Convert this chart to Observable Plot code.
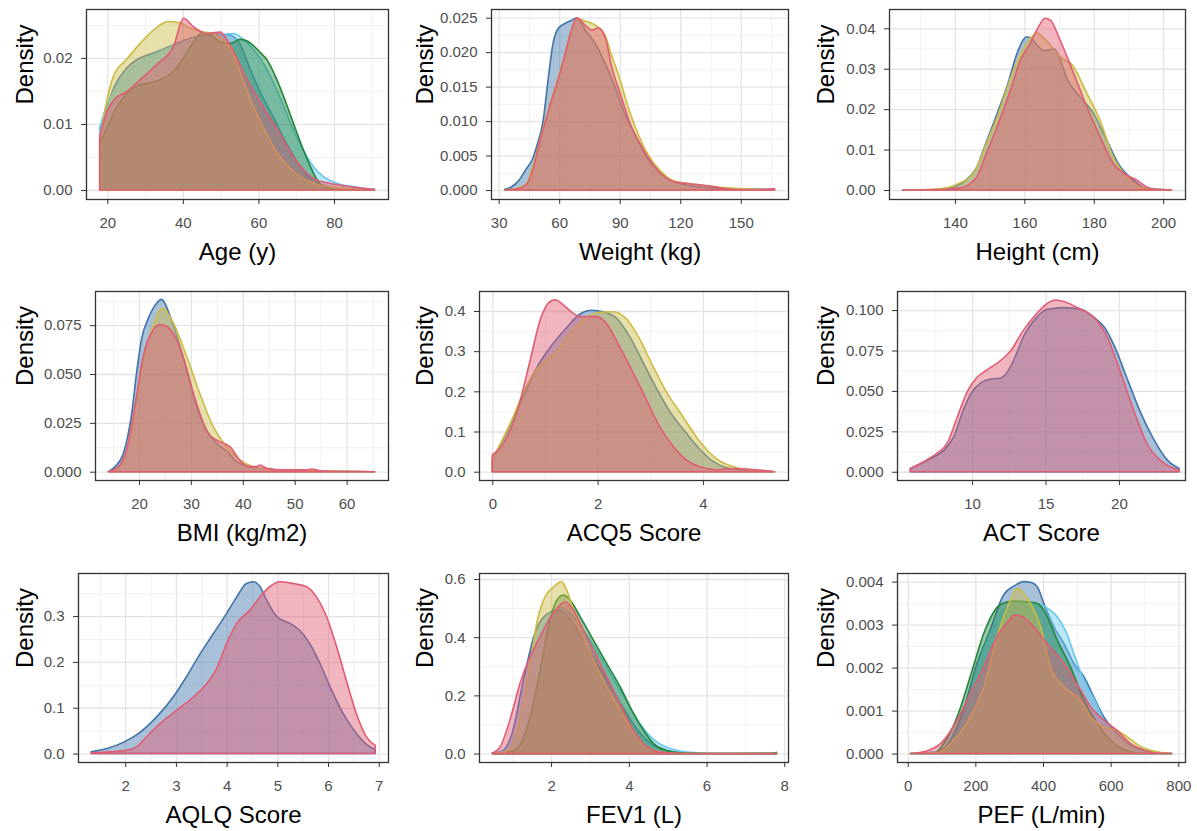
<!DOCTYPE html>
<html><head><meta charset="utf-8">
<script src="https://cdn.jsdelivr.net/npm/d3@7"></script>
<script src="https://cdn.jsdelivr.net/npm/@observablehq/plot@0.6"></script>
<style>
html,body{margin:0;padding:0;background:#fff;}
#chart{position:relative;width:1197px;height:831px;overflow:hidden;background:#fff;}
.cell{position:absolute;width:399px;height:277px;}
</style></head><body><div id="chart"></div>
<script>
// ---------- DATA: density curves [x, density] ----------
const age_blue = [[18,0.0091],[20,0.0128],[22,0.0158],[25,0.0184],[28,0.0198],[32,0.0207],[36,0.0216],[40,0.0226],[44,0.0233],[48,0.0236],[52,0.0235],[55,0.0222],[58,0.018],[61,0.0142],[64,0.011],[67,0.0075],[70,0.0045],[73,0.0022],[76,0.001],[80,0.0004],[85,0.0001],[90.7,0]];
const age_cyan = [[18,0.0095],[20,0.013],[23,0.0162],[26,0.0182],[30,0.0198],[35,0.0212],[40,0.0222],[45,0.0229],[50,0.0235],[53.5,0.0237],[56,0.0228],[58.8,0.0212],[61.5,0.019],[64,0.0162],[66.5,0.013],[68.5,0.0101],[70.5,0.0075],[72.9,0.005],[75,0.0032],[77.3,0.002],[80.9,0.001],[85.3,0.0005],[90.7,0.0001]];
const age_green = [[18,0.007],[20,0.0095],[22,0.012],[25,0.0145],[28,0.0158],[31,0.0162],[34,0.0167],[37,0.0177],[40,0.0198],[43,0.0226],[45,0.0238],[47.5,0.0234],[50,0.0224],[52.5,0.0222],[55.2,0.0228],[58,0.0222],[60.5,0.0208],[62.3,0.0197],[64.5,0.0172],[66.7,0.0141],[69,0.0105],[71.2,0.0071],[73.8,0.0035],[76.5,0.0008],[80,0.0002],[90.7,0]];
const age_yellow = [[18,0.0075],[19.5,0.0125],[21.6,0.0172],[25,0.0197],[28.7,0.0222],[32.2,0.0242],[36,0.0255],[39.3,0.0253],[42,0.0245],[44.6,0.024],[48,0.0237],[50,0.023],[53,0.021],[56,0.0165],[59,0.0122],[62,0.0086],[65,0.0056],[68,0.0035],[71,0.002],[75,0.001],[80,0.0004],[90.7,0]];
const age_red = [[18,0.0082],[20,0.012],[22,0.0138],[25,0.0148],[28.7,0.0167],[33.1,0.019],[37.5,0.0217],[40.2,0.026],[42.8,0.0247],[46.4,0.0237],[49.9,0.0239],[51.7,0.0227],[54,0.0203],[57,0.0167],[60,0.0138],[62.3,0.0116],[65,0.0092],[67.6,0.0066],[70,0.0045],[72.9,0.0025],[75.5,0.0015],[78.2,0.0011],[84.4,0.0005],[90.7,0.0001]];

const wt_blue = [[33,0.0001],[36,0.0004],[40.3,0.0015],[43.5,0.003],[46.8,0.0045],[49,0.0065],[52,0.01],[54.5,0.016],[56.9,0.0212],[59,0.0232],[61.8,0.024],[66,0.0246],[68.8,0.025],[72.9,0.0232],[77.8,0.0213],[82.7,0.0184],[87.6,0.015],[92.5,0.0111],[97.4,0.0082],[102.3,0.0053],[108.8,0.0029],[117,0.0012],[128.4,0.0005],[144.7,0.0002],[166.7,0.0001]];
const wt_yellow = [[33,0],[38,0.0002],[43.5,0.0008],[47,0.0035],[50,0.0068],[55,0.012],[61.5,0.0183],[65.6,0.0228],[68.8,0.0249],[72.9,0.0245],[76.2,0.0242],[79.4,0.0236],[82.7,0.0225],[86,0.0195],[89.2,0.0169],[94.1,0.0121],[99,0.0082],[103.9,0.0052],[110.4,0.0027],[117,0.0013],[128.4,0.0008],[140,0.0004],[150,0.0002],[166.7,0]];
const wt_red = [[33,0],[38,0.0001],[43.5,0.0007],[47,0.003],[50,0.0066],[55,0.0118],[61.5,0.0181],[65.6,0.0227],[68.8,0.025],[72.9,0.0239],[76.2,0.0232],[79.4,0.0235],[82.7,0.0222],[86,0.0179],[90.8,0.0135],[95.7,0.0092],[99,0.0073],[103.9,0.0048],[110.4,0.0024],[117,0.0012],[128.4,0.0008],[136.5,0.0005],[144.7,0.0001],[157.7,0],[163,0.0001],[166.7,0.0002]];

const ht_blue = [[124.9,0],[134,0.0001],[137.8,0.0004],[140.5,0.001],[142.6,0.0021],[144.5,0.0035],[146.4,0.0058],[148,0.0095],[149.3,0.0124],[152.2,0.019],[155,0.0256],[157.9,0.0338],[159.8,0.0373],[160.7,0.0379],[162,0.0375],[163.6,0.036],[165.5,0.0345],[167.2,0.0346],[168.4,0.035],[170.3,0.0325],[172.2,0.0277],[176,0.0231],[179.9,0.019],[183.7,0.0124],[187.6,0.0058],[191.4,0.0025],[195.2,0.0004],[202.4,0]];
const ht_yellow = [[124.9,0],[134,0.0002],[138.8,0.0008],[141.5,0.0018],[144.5,0.0033],[146.5,0.006],[148.3,0.0099],[152.2,0.0181],[156.9,0.0297],[160.8,0.0363],[163.6,0.0388],[166.5,0.0368],[170.3,0.033],[174.2,0.0305],[178,0.0239],[181.8,0.0173],[185.6,0.0082],[189.5,0.0033],[193.3,0.0008],[197,0.0001],[202.4,0]];
const ht_red = [[124.9,0],[136,0.0001],[140.7,0.0004],[144.5,0.0016],[146.5,0.0035],[148.3,0.0074],[152.2,0.0157],[156,0.0247],[158.9,0.0322],[161.7,0.0363],[163.6,0.0396],[166,0.0425],[167.5,0.042],[170.3,0.0371],[174.2,0.0289],[178,0.0206],[181.8,0.0132],[185.6,0.0066],[189.5,0.0037],[192.3,0.0025],[194.5,0.0012],[196.2,0.0004],[199,0.0001],[202.4,0]];

const bmi_blue = [[14.1,0],[15.4,0.0026],[17,0.0094],[18.6,0.03],[19.6,0.052],[20.5,0.068],[21.8,0.0785],[23.4,0.0862],[24.3,0.0882],[25,0.0862],[26,0.0796],[27.9,0.0642],[29.5,0.0488],[31.1,0.0334],[33,0.0214],[34.9,0.0146],[36.9,0.0105],[38.8,0.0051],[41.3,0.0026],[44.6,0.0014],[51,0.0005],[57.4,0.0002],[65.4,0]];
const bmi_yellow = [[14.1,0],[15.7,0.0015],[17.6,0.0105],[19.2,0.032],[20.8,0.057],[22.8,0.0755],[24.5,0.0835],[26.6,0.0762],[29.2,0.059],[31.7,0.0402],[34.3,0.0231],[36.9,0.0128],[39.4,0.006],[42,0.0025],[45,0.0012],[50,0.0007],[55,0.0004],[65.4,0]];
const bmi_red = [[14.1,0],[15.7,0.0017],[17.6,0.0111],[19.2,0.0334],[20.8,0.059],[22.8,0.0728],[24,0.0753],[25.3,0.0745],[26.9,0.0693],[28.5,0.059],[30.1,0.0437],[31.7,0.03],[33.3,0.0197],[34.9,0.0163],[36.2,0.0146],[37.5,0.0128],[39.4,0.006],[41,0.0026],[42.6,0.0026],[43.3,0.0034],[44.6,0.0017],[47.8,0.0009],[52.2,0.0009],[53.2,0.0014],[54.8,0.0005],[60,0.0001],[65.4,0]];

const acq_blue = [[0,0.03],[0.3,0.105],[0.6,0.19],[0.84,0.258],[1.1,0.31],[1.4,0.357],[1.66,0.392],[1.89,0.402],[2.11,0.398],[2.36,0.382],[2.61,0.336],[2.87,0.27],[3.12,0.207],[3.37,0.15],[3.69,0.095],[3.94,0.056],[4.2,0.025],[4.45,0.01],[4.89,0.003],[5.36,0]];
const acq_yellow = [[0,0.03],[0.37,0.129],[0.6,0.2],[0.84,0.255],[1.05,0.28],[1.22,0.3],[1.45,0.34],[1.66,0.37],[2.04,0.397],[2.3,0.398],[2.55,0.38],[2.8,0.33],[3.06,0.26],[3.31,0.198],[3.63,0.135],[3.94,0.075],[4.26,0.032],[4.58,0.012],[4.89,0.004],[5.36,0]];
const acq_red = [[0,0.042],[0.21,0.07],[0.46,0.145],[0.72,0.278],[0.91,0.378],[1.09,0.423],[1.2,0.428],[1.35,0.415],[1.54,0.394],[1.66,0.386],[1.98,0.386],[2.17,0.369],[2.42,0.311],[2.68,0.245],[2.93,0.178],[3.18,0.112],[3.44,0.062],[3.69,0.029],[3.94,0.012],[4.26,0.005],[4.58,0.008],[4.89,0.006],[5.36,0]];

const act_blue = [[5.8,0.002],[6.5,0.005],[7.2,0.0082],[8.1,0.0134],[8.75,0.0216],[9.4,0.038],[9.9,0.048],[10.6,0.055],[11.2,0.0572],[11.9,0.0578],[12.5,0.063],[13,0.0725],[13.5,0.0835],[14.4,0.0955],[15.1,0.1005],[16.25,0.1015],[17.4,0.1005],[18.3,0.0955],[19,0.0895],[19.7,0.0775],[20.6,0.0567],[21.5,0.0361],[22.4,0.0196],[23.3,0.0072],[24.1,0.002]];
const act_red = [[5.8,0.002],[6.7,0.0062],[7.6,0.0113],[8.3,0.0175],[9,0.034],[9.7,0.05],[10.3,0.058],[11,0.0629],[11.9,0.0685],[12.6,0.0745],[13.5,0.0876],[14.4,0.0979],[15.3,0.1052],[15.7,0.1062],[16.3,0.1052],[17.4,0.1005],[18.3,0.0955],[19.2,0.0835],[19.9,0.067],[20.6,0.0485],[21.25,0.032],[21.9,0.0175],[22.8,0.0072],[24.1,0.001]];

const aq_blue = [[1.33,0.004],[1.64,0.011],[1.97,0.025],[2.3,0.047],[2.62,0.08],[2.95,0.124],[3.21,0.168],[3.48,0.218],[3.74,0.262],[4,0.306],[4.2,0.342],[4.39,0.371],[4.53,0.375],[4.66,0.364],[4.79,0.335],[4.99,0.299],[5.25,0.284],[5.44,0.269],[5.64,0.24],[5.84,0.197],[6.04,0.146],[6.3,0.087],[6.56,0.044],[6.82,0.015],[6.93,0.009]];
const aq_red = [[1.33,0.0015],[1.7,0.004],[2.03,0.007],[2.23,0.015],[2.43,0.038],[2.69,0.066],[3.02,0.095],[3.35,0.124],[3.61,0.153],[3.8,0.185],[4,0.24],[4.2,0.284],[4.46,0.313],[4.66,0.342],[4.85,0.364],[5.05,0.375],[5.31,0.371],[5.58,0.364],[5.77,0.342],[5.97,0.299],[6.17,0.233],[6.36,0.16],[6.56,0.087],[6.76,0.036],[6.93,0.018]];

const fev_blue = [[0.49,0.002],[0.75,0.01],[1.0,0.07],[1.3,0.26],[1.6,0.42],[1.9,0.48],[2.15,0.492],[2.4,0.475],[2.7,0.42],[3.0,0.35],[3.4,0.26],[3.8,0.17],[4.2,0.085],[4.6,0.032],[5.0,0.009],[5.5,0.002],[6.5,0],[7.8,0]];
const fev_cyan = [[0.49,0.002],[0.8,0.01],[1.1,0.07],[1.4,0.26],[1.7,0.41],[2.0,0.48],[2.25,0.5],[2.5,0.48],[2.8,0.43],[3.1,0.37],[3.5,0.28],[3.9,0.19],[4.3,0.1],[4.7,0.042],[5.0,0.02],[5.4,0.007],[5.9,0.002],[6.5,0],[7.8,0]];
const fev_green = [[0.49,0],[0.94,0.006],[1.2,0.029],[1.46,0.126],[1.72,0.287],[1.97,0.459],[2.15,0.528],[2.32,0.545],[2.49,0.528],[2.75,0.47],[3.09,0.39],[3.43,0.31],[3.78,0.229],[4.12,0.138],[4.38,0.08],[4.64,0.034],[4.98,0.011],[5.41,0.002],[6.5,0],[7.6,0.001],[7.8,0.004]];
const fev_yellow = [[0.49,0],[0.8,0.005],[1.0,0.03],[1.2,0.12],[1.45,0.3],[1.65,0.46],[1.85,0.54],[2.06,0.572],[2.27,0.591],[2.4,0.562],[2.58,0.493],[2.83,0.402],[3.09,0.321],[3.43,0.229],[3.78,0.149],[4.03,0.092],[4.29,0.046],[4.55,0.017],[4.98,0.003],[5.5,0],[7.8,0]];
const fev_red = [[0.49,0.002],[0.69,0.023],[0.94,0.115],[1.2,0.241],[1.46,0.333],[1.72,0.402],[1.97,0.465],[2.23,0.51],[2.36,0.522],[2.58,0.493],[2.83,0.424],[3.09,0.356],[3.35,0.287],[3.6,0.218],[3.86,0.149],[4.12,0.08],[4.38,0.034],[4.64,0.011],[4.98,0.003],[5.84,0],[7.8,0]];

const pef_blue = [[8,0],[87,0.00004],[126,0.0003],[166,0.00105],[205,0.0021],[245,0.0029],[284,0.0037],[315,0.0039],[343,0.004],[365,0.00398],[383,0.00388],[402,0.0035],[432,0.00295],[462,0.00256],[491,0.0021],[521,0.00179],[550,0.00132],[580,0.00085],[619,0.00047],[659,0.00019],[708,0.00006],[780,0]];
const pef_cyan = [[8,0],[90,0.00004],[130,0.0003],[170,0.001],[210,0.0021],[250,0.0029],[290,0.0034],[330,0.0035],[370,0.0035],[410,0.0034],[442,0.00318],[470,0.0028],[491,0.00233],[511,0.0019],[531,0.00155],[555,0.0012],[580,0.00078],[605,0.0005],[629,0.00031],[670,0.0001],[720,0.00002],[780,0]];
const pef_green = [[8,0],[80,0.00002],[106,0.00023],[146,0.00085],[185,0.00179],[225,0.0028],[264,0.0034],[290,0.00352],[320,0.00355],[350,0.00353],[380,0.0035],[402,0.00334],[442,0.00264],[481,0.00202],[521,0.00124],[560,0.0007],[610,0.00023],[659,0.00004],[700,0],[780,0]];
const pef_yellow = [[8,0],[90,0.00003],[136,0.00031],[185,0.00085],[225,0.00155],[264,0.00272],[304,0.00357],[324,0.00384],[345,0.0037],[363,0.0035],[393,0.00295],[422,0.00202],[462,0.00155],[511,0.00124],[541,0.00085],[580,0.00062],[619,0.00054],[649,0.00039],[689,0.00016],[738,0.00004],[780,0]];
const pef_red = [[8,0],[47,0.00004],[97,0.00023],[146,0.00078],[185,0.0014],[225,0.00202],[264,0.00272],[300,0.0031],[314,0.00322],[335,0.0032],[363,0.00303],[412,0.00256],[462,0.0021],[511,0.00148],[541,0.00109],[580,0.00078],[619,0.00054],[659,0.00023],[698,0.00008],[740,0.00001],[780,0]];

// ---------- tick values and labels ----------
const axisTitles = ["Age (y)", "Weight (kg)", "Height (cm)", "BMI (kg/m2)", "ACQ5 Score", "ACT Score", "AQLQ Score", "FEV1 (L)", "PEF (L/min)"];
const xTicks = [[20,40,60,80],[30,60,90,120,150],[140,160,180,200],[20,30,40,50,60],[0,2,4],[10,15,20],[2,3,4,5,6,7],[2,4,6,8],[0,200,400,600,800]];
const xMinorTicks = [[30,50,70,90],[45,75,105,135,165],[130,150,170,190],[15,25,35,45,55,65],[1,3,5],[7.5,12.5,17.5,22.5],[1.5,2.5,3.5,4.5,5.5,6.5],[1,3,5,7],[100,300,500,700]];
const yTicks = [[0,0.01,0.02],[0,0.005,0.01,0.015,0.02,0.025],[0,0.01,0.02,0.03,0.04],[0,0.025,0.05,0.075],[0,0.1,0.2,0.3,0.4],[0,0.025,0.05,0.075,0.1],[0,0.1,0.2,0.3],[0,0.2,0.4,0.6],[0,0.001,0.002,0.003,0.004]];
const yMinorTicks = [[0.005,0.015,0.025],[0.0025,0.0075,0.0125,0.0175,0.0225],[0.005,0.015,0.025,0.035],[0.0125,0.0375,0.0625,0.0875],[0.05,0.15,0.25,0.35],[0.0125,0.0375,0.0625,0.0875],[0.05,0.15,0.25,0.35],[0.1,0.3,0.5],[0.0005,0.0015,0.0025,0.0035]];
const yDecimals = [2,3,2,3,1,3,1,1,3];
const panelSeries = [
  [["blue",age_blue],["cyan",age_cyan],["green",age_green],["yellow",age_yellow],["red",age_red]],
  [["blue",wt_blue],["yellow",wt_yellow],["red",wt_red]],
  [["blue",ht_blue],["yellow",ht_yellow],["red",ht_red]],
  [["blue",bmi_blue],["yellow",bmi_yellow],["red",bmi_red]],
  [["blue",acq_blue],["yellow",acq_yellow],["red",acq_red]],
  [["blue",act_blue],["red",act_red]],
  [["blue",aq_blue],["red",aq_red]],
  [["blue",fev_blue],["cyan",fev_cyan],["green",fev_green],["yellow",fev_yellow],["red",fev_red]],
  [["blue",pef_blue],["cyan",pef_cyan],["green",pef_green],["yellow",pef_yellow],["red",pef_red]]
];

// ---------- layout / style ----------
const colors = {blue:"#4174AA", cyan:"#66C8EC", green:"#22853A", yellow:"#CCBB44", red:"#E05C74"};
const colOff = [0, 399, 798], rowOff = [0, 277, 554];
const frames = [ // [left, top, right, bottom] in page px
  [86,9,388,199],[491,9,788,199],[889,9,1185,199],
  [95,291,388,480],[479,291,788,480],[897,291,1185,480],
  [78,573,388,762],[479,573,788,762],[897,573,1185,762]
];
const xDomains = [[14.36,94.3],[26.2,173.4],[121,206.3],[11.52,67.98],[-0.253,5.616],[4.89,24.5],[1.069,7.183],[0.146,8.096],[-31.7,819.8]];
const yDomains = [[-0.00136,0.0274],[-0.0013,0.02626],[-0.00223,0.04478],[-0.00426,0.0925],[-0.0207,0.4498],[-0.0051,0.1118],[-0.0184,0.394],[-0.0289,0.6206],[-0.000196,0.0042]];
const densityX = [25, 425, 826];
const FONT = "'Liberation Sans', Arial, Helvetica, sans-serif";

const chart = document.getElementById("chart");
for (let i = 0; i < 9; i++) {
  const r = Math.floor(i / 3), c = i % 3;
  const [fl, ft, fr, fb] = frames[i];
  const mL = fl - colOff[c], mR = colOff[c] + 399 - fr, mT = ft - rowOff[r], mB = rowOff[r] + 277 - fb;
  const marks = [
    Plot.gridX(xMinorTicks[i], {stroke: "#EEEEEE", strokeOpacity: 1, strokeWidth: 0.8}),
    Plot.gridY(yMinorTicks[i], {stroke: "#EEEEEE", strokeOpacity: 1, strokeWidth: 0.8}),
    Plot.gridX(xTicks[i], {stroke: "#E4E4E4", strokeOpacity: 1, strokeWidth: 1.3}),
    Plot.gridY(yTicks[i], {stroke: "#E4E4E4", strokeOpacity: 1, strokeWidth: 1.3})
  ];
  for (const [name, data] of panelSeries[i]) {
    marks.push(Plot.areaY(data, {
      x: d => d[0], y1: 0, y2: d => d[1], curve: "monotone-x",
      fill: colors[name], fillOpacity: 0.45, stroke: colors[name], strokeWidth: 1.6, strokeLinejoin: "round"
    }));
  }
  const dec = yDecimals[i];
  marks.push(
    Plot.frame({stroke: "#333333", strokeWidth: 1.3}),
    Plot.axisX({ticks: xTicks[i], tickSize: 5, tickPadding: 13, fontSize: 15, fill: "#4D4D4D", stroke: "#333333", label: null, tickFormat: d => String(d)}),
    Plot.axisY({ticks: yTicks[i], tickSize: 5, tickPadding: 9, fontSize: 15, fill: "#4D4D4D", stroke: "#333333", label: null, tickFormat: d => d.toFixed(dec)}),
    Plot.text([axisTitles[i]], {text: d => d, frameAnchor: "bottom", dy: 53, lineAnchor: "middle", fontSize: 24, fill: "#000"}),
    Plot.text(["Density"], {text: d => d, frameAnchor: "left", dx: densityX[c] - fl, rotate: -90, lineAnchor: "middle", fontSize: 24, fill: "#000"})
  );
  const svg = Plot.plot({
    width: 399, height: 277,
    marginLeft: mL, marginRight: mR, marginTop: mT, marginBottom: mB,
    x: {domain: xDomains[i]}, y: {domain: yDomains[i]},
    style: {fontFamily: FONT, fontSize: "15px", background: "transparent", overflow: "visible"},
    marks
  });
  const cell = document.createElement("div");
  cell.className = "cell";
  cell.style.left = colOff[c] + "px";
  cell.style.top = rowOff[r] + "px";
  cell.appendChild(svg);
  chart.appendChild(cell);
}
</script></body></html>
